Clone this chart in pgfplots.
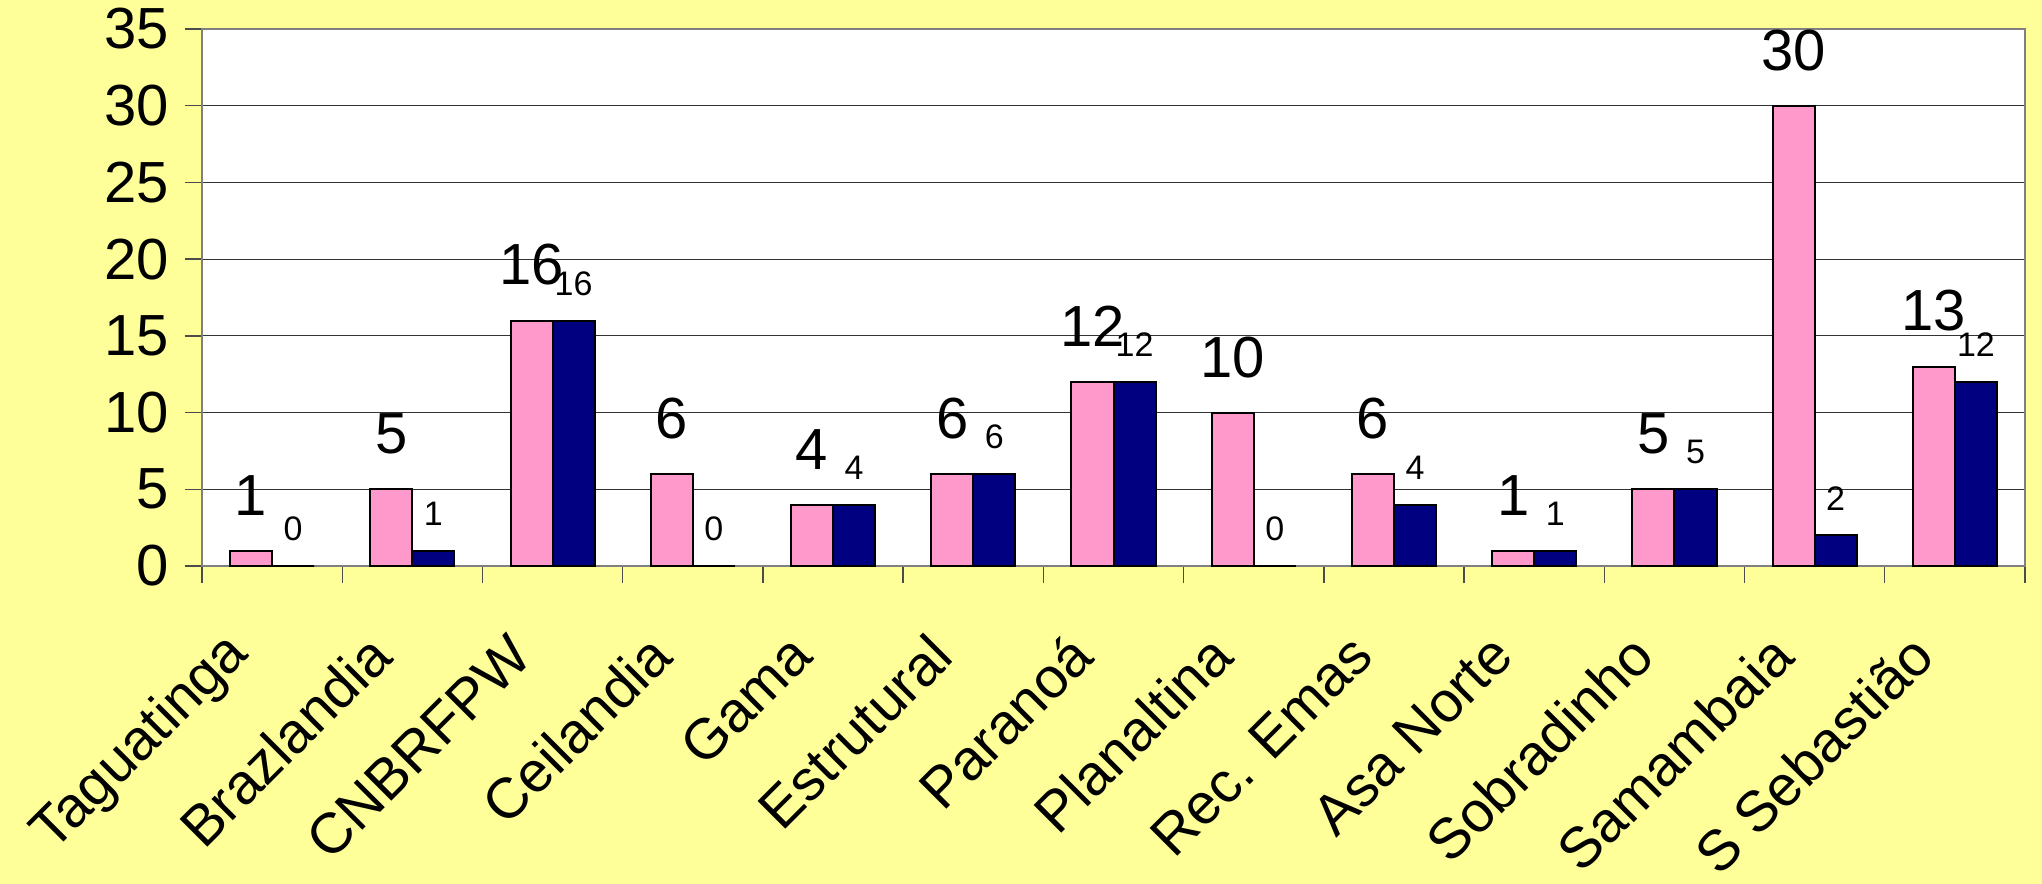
\documentclass[border=0pt]{standalone}
\usepackage{fontspec}
\setmainfont{Liberation Sans}
\usepackage{pgfplots}
\pgfplotsset{compat=1.18}
\definecolor{bgyellow}{HTML}{FFFF99}
\definecolor{barpink}{HTML}{FF99CC}
\definecolor{barnavy}{HTML}{000080}
\definecolor{axisgray}{HTML}{808080}
\begin{document}
\begin{tikzpicture}
\fill[bgyellow] (-101pt,-159pt) rectangle (920pt,283pt);
\useasboundingbox (-101pt,-159pt) rectangle (920pt,283pt);
\begin{axis}[
    at={(0,0)}, anchor=south west,
    scale only axis,
    width=911.5pt, height=268.5pt,
    /pgf/number format/assume math mode=true,
    axis background/.style={fill=white},
    ymin=0, ymax=35,
    ytick={0,5,...,35},
    xmin=-0.5, xmax=12.5,
    xtick={-0.5,0.5,...,12.5},
    x tick label as interval,
    xticklabels={Taguatinga,Brazlandia,CNBRFPW,Ceilandia,Gama,Estrutural,Paranoá,Planaltina,Rec. Emas,Asa Norte,Sobradinho,Samambaia,S Sebastião},
    tick pos=left,
    tick align=outside,
    major tick length=8.5pt,
    tick style={black!70, line width=0.7pt},
    axis line style={axisgray, line width=1pt},
    ymajorgrids,
    grid style={black!80, line width=0.6pt},
    yticklabel style={font=\fontsize{29}{30}\selectfont, inner sep=0pt, xshift=-8pt},
    xticklabel style={font=\fontsize{28.5}{30}\selectfont, xshift=-16pt, yshift=-1pt, rotate=45, anchor=east, inner sep=0pt},
    xticklabel shift=30pt,
    ybar,
    bar width=0.3,
  ]
  % pink series
  \addplot[
      fill=barpink, draw=black, line width=1pt,
      bar shift=-0.15,
      nodes near coords,
      every node near coord/.append style={font=\fontsize{29}{30}\selectfont, black, inner sep=0pt, anchor=south, yshift=17pt},
      ]
      coordinates {
          (0,1) (1,5) (2,16) (3,6) (4,4) (5,6) (6,12)
          (7,10) (8,6) (9,1) (10,5) (11,30) (12,13)
      };
  % navy series
  \addplot[
      fill=barnavy, draw=black, line width=1pt,
      bar shift=0.15,
      nodes near coords,
      every node near coord/.append style={font=\fontsize{17}{18}\selectfont, black, inner sep=0pt, anchor=south, yshift=12pt},
      ]
      coordinates {
          (0,0) (1,1) (2,16) (3,0) (4,4) (5,6) (6,12)
          (7,0) (8,4) (9,1) (10,5) (11,2) (12,12)
      };
\end{axis}
\end{tikzpicture}
\end{document}
